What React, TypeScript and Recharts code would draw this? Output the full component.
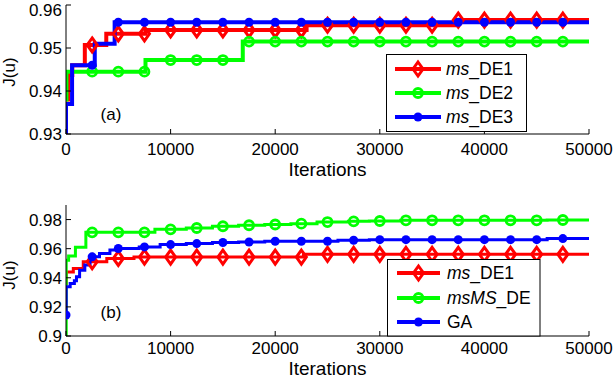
import { LineChart, Line, XAxis, YAxis, Label } from "recharts";

// shared x axis
const iterTicks = [0, 10000, 20000, 30000, 40000, 50000];
const markIters = [
  2500, 5000, 7500, 10000, 12500, 15000, 17500, 20000, 22500, 25000,
  27500, 30000, 32500, 35000, 37500, 40000, 42500, 45000, 47500,
];
const gaMarkIters = [0, ...markIters];

// panel (a)
const aTicks = [0.93, 0.94, 0.95, 0.96];
const aDE1Iter = [0, 190, 600, 1800, 3850, 7600, 23000, 37400, 50000];
const aDE1Val = [0.938, 0.9437, 0.946, 0.9507, 0.9533, 0.9542, 0.9553, 0.9565, 0.9565];
const aDE2Iter = [0, 40, 7600, 16900, 50000];
const aDE2Val = [0.938, 0.9445, 0.9472, 0.9515, 0.9515];
const aDE3Iter = [0, 0, 580, 2750, 4650, 50000];
const aDE3Val = [0.93, 0.937, 0.946, 0.951, 0.956, 0.956];

// panel (b)
const bTicks = [0.9, 0.92, 0.94, 0.96, 0.98];
const bDE1Iter = [0, 30, 700, 1650, 3900, 6500, 22700, 50000];
const bDE1Val = [0.936, 0.944, 0.9464, 0.951, 0.9533, 0.9542, 0.9561, 0.9561];
const bMSIter = [0, 20, 250, 900, 1900, 8500, 11500, 14000, 16500, 19000, 21500, 24000, 27000, 29000, 32000, 46000, 50000];
const bMSVal = [0.9, 0.952, 0.955, 0.961, 0.9712, 0.9733, 0.9742, 0.9754, 0.9761, 0.9766, 0.9772, 0.9783, 0.9788, 0.979, 0.9795, 0.9797, 0.9797];
const bGAIter = [0, 20, 400, 800, 1000, 1300, 1800, 2300, 3200, 4200, 4800, 7000, 9000, 11500, 14000, 16500, 19000, 26000, 29000, 46000, 50000];
const bGAVal = [0.9144, 0.9338, 0.936, 0.938, 0.9407, 0.9452, 0.9487, 0.9544, 0.9567, 0.959, 0.9601, 0.9612, 0.9628, 0.9635, 0.9642, 0.9646, 0.9651, 0.9658, 0.9662, 0.9669, 0.9669];

const RED = "#ff0000";
const GREEN = "#00ff00";
const BLUE = "#0000ff";
const FONT = "Liberation Sans, Arial, sans-serif";

type Pt = { x: number; y: number; m: boolean };

// step points plus marker points
function buildSeries(iters: number[], vals: number[], marks: number[]): Pt[] {
  const pts: Pt[] = iters.map((x, i) => ({ x, y: vals[i], m: false }));
  marks.forEach((mx) => {
    let y = vals[0];
    iters.forEach((x, i) => {
      if (x <= mx) y = vals[i];
    });
    pts.push({ x: mx, y, m: true });
  });
  return pts.sort((a, b) => a.x - b.x);
}

type Shape = "diamond" | "circle" | "dot";

function Marker({ shape, color, cx, cy }: { shape: Shape; color: string; cx: number; cy: number }) {
  if (shape === "diamond")
    return (
      <path
        d={`M${cx},${cy - 7}L${cx + 5},${cy}L${cx},${cy + 7}L${cx - 5},${cy}Z`}
        fill="none"
        stroke={color}
        strokeWidth={3}
      />
    );
  if (shape === "circle")
    return <circle cx={cx} cy={cy} r={4.5} fill="none" stroke={color} strokeWidth={2.8} />;
  return <circle cx={cx} cy={cy} r={4.5} fill={color} stroke="none" />;
}

const dotFor = (shape: Shape, color: string) => (p: any) =>
  p.payload && p.payload.m ? (
    <g key={`m${p.index}`}>
      <Marker shape={shape} color={color} cx={p.cx} cy={p.cy} />
    </g>
  ) : (
    <g key={`m${p.index}`} />
  );

type SeriesDef = { name: string; color: string; shape: Shape; data: Pt[] };

interface PanelProps {
  series: SeriesDef[];
  yDomain: [number, number];
  yTicks: number[];
  marginTop: number;
  xHeight: number;
  xTickMargin: number;
  labelOffset: number;
  lineWidth: number;
}

const tickStyle = { fontSize: 17, fill: "#000", fontFamily: FONT };

const Panel = ({ series, yDomain, yTicks, marginTop, xHeight, xTickMargin, labelOffset, lineWidth }: PanelProps) => (
  <LineChart width={614} height={189} margin={{ top: marginTop, right: 25, bottom: 0, left: 0 }}>
    <XAxis
      dataKey="x"
      type="number"
      domain={[0, 50000]}
      ticks={iterTicks}
      allowDataOverflow
      height={xHeight}
      tickSize={-5}
      tickMargin={xTickMargin}
      stroke="#000"
      tick={tickStyle}
    >
      <Label
        value="Iterations"
        position="insideBottom"
        offset={labelOffset}
        style={{ fontSize: 19, fill: "#000", fontFamily: FONT }}
      />
    </XAxis>
    <XAxis
      xAxisId="top"
      orientation="top"
      dataKey="x"
      type="number"
      domain={[0, 50000]}
      ticks={iterTicks}
      height={0}
      tickSize={-5}
      tick={false}
      stroke="#000"
    />
    <YAxis
      type="number"
      domain={yDomain}
      ticks={yTicks}
      allowDataOverflow
      width={66}
      tickSize={-5}
      tickMargin={9}
      stroke="#000"
      tick={tickStyle}
      tickFormatter={(v: number) => String(v)}
    />
    <YAxis
      yAxisId="right"
      orientation="right"
      type="number"
      domain={yDomain}
      ticks={yTicks}
      width={0}
      tickSize={-5}
      tick={false}
      stroke="#000"
    />
    {series.map((s) => (
      <Line
        key={s.name}
        data={s.data}
        dataKey="y"
        type="stepAfter"
        stroke={s.color}
        strokeWidth={lineWidth}
        dot={dotFor(s.shape, s.color)}
        activeDot={false}
        isAnimationActive={false}
      />
    ))}
  </LineChart>
);

function LegendBox({ x, y, w, h, rows, lineX0, lineX1, textX }: {
  x: number; y: number; w: number; h: number;
  rows: { label: JSX.Element; color: string; shape: Shape; cy: number }[];
  lineX0: number; lineX1: number; textX: number;
}) {
  return (
    <g>
      <rect x={x} y={y} width={w} height={h} fill="#fff" stroke="#000" strokeWidth={1} />
      {rows.map((r, i) => (
        <g key={i}>
          <line x1={lineX0} x2={lineX1} y1={r.cy} y2={r.cy} stroke={r.color} strokeWidth={4} />
          <Marker shape={r.shape} color={r.color} cx={(lineX0 + lineX1) / 2} cy={r.cy} />
          <text x={textX} y={r.cy + 6} fontSize={17.5} fontFamily={FONT} fill="#000">
            {r.label}
          </text>
        </g>
      ))}
    </g>
  );
}

export default function App() {
  const seriesA: SeriesDef[] = [
    { name: "DE1", color: RED, shape: "diamond", data: buildSeries(aDE1Iter, aDE1Val, markIters) },
    { name: "DE2", color: GREEN, shape: "circle", data: buildSeries(aDE2Iter, aDE2Val, markIters) },
    { name: "DE3", color: BLUE, shape: "dot", data: buildSeries(aDE3Iter, aDE3Val, markIters) },
  ];
  const seriesB: SeriesDef[] = [
    { name: "DE1", color: RED, shape: "diamond", data: buildSeries(bDE1Iter, bDE1Val, markIters) },
    { name: "MS", color: GREEN, shape: "circle", data: buildSeries(bMSIter, bMSVal, markIters) },
    { name: "GA", color: BLUE, shape: "dot", data: buildSeries(bGAIter, bGAVal, gaMarkIters) },
  ];

  return (
    <div style={{ position: "absolute", left: 0, top: 0, width: 614, height: 378, background: "#fff", fontFamily: FONT }}>
      <Panel series={seriesA} yDomain={[0.93, 0.96]} yTicks={aTicks} marginTop={5} xHeight={55}
        xTickMargin={14} labelOffset={13} lineWidth={4} />
      <Panel series={seriesB} yDomain={[0.9, 0.99]} yTicks={bTicks} marginTop={16} xHeight={42}
        xTickMargin={11} labelOffset={3} lineWidth={3} />
      <svg width={614} height={378} style={{ position: "absolute", left: 0, top: 0, pointerEvents: "none" }}>
        <text transform="translate(15,72) rotate(-90)" textAnchor="middle" fontSize={17} fontFamily={FONT}>J(u)</text>
        <text transform="translate(15,275) rotate(-90)" textAnchor="middle" fontSize={17} fontFamily={FONT}>J(u)</text>
        <text x={111} y={120} textAnchor="middle" fontSize={17} fontFamily={FONT}>(a)</text>
        <text x={111} y={318} textAnchor="middle" fontSize={17} fontFamily={FONT}>(b)</text>
        <LegendBox
          x={386.5} y={54.5} w={140} h={77} lineX0={395} lineX1={441} textX={446}
          rows={[
            { label: <><tspan fontStyle="italic">ms</tspan>_DE1</>, color: RED, shape: "diamond", cy: 69 },
            { label: <><tspan fontStyle="italic">ms</tspan>_DE2</>, color: GREEN, shape: "circle", cy: 93 },
            { label: <><tspan fontStyle="italic">ms</tspan>_DE3</>, color: BLUE, shape: "dot", cy: 117 },
          ]}
        />
        <LegendBox
          x={387.5} y={259.5} w={152.5} h={76.5} lineX0={397} lineX1={440} textX={447}
          rows={[
            { label: <><tspan fontStyle="italic">ms</tspan>_DE1</>, color: RED, shape: "diamond", cy: 273 },
            { label: <><tspan fontStyle="italic">msMS</tspan>_DE</>, color: GREEN, shape: "circle", cy: 298 },
            { label: <>GA</>, color: BLUE, shape: "dot", cy: 322 },
          ]}
        />
      </svg>
    </div>
  );
}
